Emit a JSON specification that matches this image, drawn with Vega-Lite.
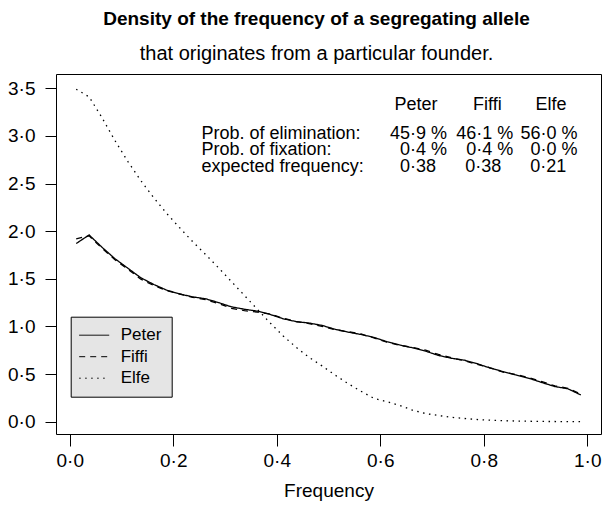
{
  "$schema": "https://vega.github.io/schema/vega-lite/v6.json",
  "width": 545,
  "height": 360,
  "autosize": {"type": "none"},
  "padding": {"left": 56, "top": 74, "right": 1, "bottom": 74},
  "background": "white",
  "title": {
    "text": "Density of the frequency of a segregating allele",
    "subtitle": "that originates from a particular founder.",
    "font": "Liberation Sans",
    "subtitleFont": "Liberation Sans",
    "fontSize": 19,
    "fontWeight": "bold",
    "subtitleFontSize": 20,
    "subtitleFontWeight": "normal",
    "color": "black",
    "subtitleColor": "black",
    "anchor": "middle",
    "dx": -12,
    "offset": 10,
    "subtitlePadding": 15
  },
  "config": {
    "font": "Liberation Sans",
    "view": {"stroke": "black", "strokeWidth": 1},
    "axis": {
      "grid": false,
      "domain": false,
      "tickColor": "black",
      "tickWidth": 1,
      "labelColor": "black",
      "labelFont": "Liberation Sans",
      "labelFontSize": 19,
      "titleFont": "Liberation Sans",
      "titleFontSize": 19,
      "titleFontWeight": "normal",
      "titleColor": "black",
      "labelFlush": false
    },
    "legend": {
      "orient": "none",
      "legendX": 14.7,
      "legendY": 242.7,
      "fillColor": "#e5e5e5",
      "strokeColor": "black",
      "padding": 10,
      "symbolType": "M-2,0H4",
      "symbolSize": 100,
      "symbolStrokeWidth": 1,
      "symbolStrokeColor": "black",
      "symbolFillColor": "transparent",
      "labelFont": "Liberation Sans",
      "labelFontSize": 17,
      "labelColor": "black",
      "labelOffset": 23,
      "rowPadding": 3.5,
      "direction": "vertical"
    }
  },
  "datasets": {
    "curves": [
      {"f": 0.0125, "d": 1.87, "s": "Peter"}, {"f": 0.0375, "d": 1.96, "s": "Peter"}, {"f": 0.0625, "d": 1.83, "s": "Peter"}, {"f": 0.0875, "d": 1.71, "s": "Peter"},
      {"f": 0.1125, "d": 1.61, "s": "Peter"}, {"f": 0.1375, "d": 1.51, "s": "Peter"}, {"f": 0.1625, "d": 1.44, "s": "Peter"}, {"f": 0.1875, "d": 1.38, "s": "Peter"},
      {"f": 0.2125, "d": 1.34, "s": "Peter"}, {"f": 0.2375, "d": 1.31, "s": "Peter"}, {"f": 0.2625, "d": 1.29, "s": "Peter"}, {"f": 0.2875, "d": 1.25, "s": "Peter"},
      {"f": 0.3125, "d": 1.205, "s": "Peter"}, {"f": 0.3375, "d": 1.18, "s": "Peter"}, {"f": 0.3625, "d": 1.16, "s": "Peter"}, {"f": 0.3875, "d": 1.125, "s": "Peter"},
      {"f": 0.4125, "d": 1.08, "s": "Peter"}, {"f": 0.4375, "d": 1.05, "s": "Peter"}, {"f": 0.4625, "d": 1.035, "s": "Peter"}, {"f": 0.4875, "d": 1.01, "s": "Peter"},
      {"f": 0.5125, "d": 0.97, "s": "Peter"}, {"f": 0.5375, "d": 0.94, "s": "Peter"}, {"f": 0.5625, "d": 0.915, "s": "Peter"}, {"f": 0.5875, "d": 0.885, "s": "Peter"},
      {"f": 0.6125, "d": 0.84, "s": "Peter"}, {"f": 0.6375, "d": 0.805, "s": "Peter"}, {"f": 0.6625, "d": 0.775, "s": "Peter"}, {"f": 0.6875, "d": 0.74, "s": "Peter"},
      {"f": 0.7125, "d": 0.695, "s": "Peter"}, {"f": 0.7375, "d": 0.665, "s": "Peter"}, {"f": 0.7625, "d": 0.645, "s": "Peter"}, {"f": 0.7875, "d": 0.608, "s": "Peter"},
      {"f": 0.8125, "d": 0.562, "s": "Peter"}, {"f": 0.8375, "d": 0.525, "s": "Peter"}, {"f": 0.8625, "d": 0.49, "s": "Peter"}, {"f": 0.8875, "d": 0.455, "s": "Peter"},
      {"f": 0.9125, "d": 0.41, "s": "Peter"}, {"f": 0.9375, "d": 0.368, "s": "Peter"}, {"f": 0.9625, "d": 0.345, "s": "Peter"}, {"f": 0.9875, "d": 0.28, "s": "Peter"},

      {"f": 0.0125, "d": 1.92, "s": "Fiffi"}, {"f": 0.0375, "d": 1.95, "s": "Fiffi"}, {"f": 0.0625, "d": 1.82, "s": "Fiffi"}, {"f": 0.0875, "d": 1.70, "s": "Fiffi"},
      {"f": 0.1125, "d": 1.60, "s": "Fiffi"}, {"f": 0.1375, "d": 1.495, "s": "Fiffi"}, {"f": 0.1625, "d": 1.43, "s": "Fiffi"}, {"f": 0.1875, "d": 1.375, "s": "Fiffi"},
      {"f": 0.2125, "d": 1.34, "s": "Fiffi"}, {"f": 0.2375, "d": 1.305, "s": "Fiffi"}, {"f": 0.2625, "d": 1.28, "s": "Fiffi"}, {"f": 0.2875, "d": 1.24, "s": "Fiffi"},
      {"f": 0.3125, "d": 1.19, "s": "Fiffi"}, {"f": 0.3375, "d": 1.165, "s": "Fiffi"}, {"f": 0.3625, "d": 1.15, "s": "Fiffi"}, {"f": 0.3875, "d": 1.13, "s": "Fiffi"},
      {"f": 0.4125, "d": 1.085, "s": "Fiffi"}, {"f": 0.4375, "d": 1.05, "s": "Fiffi"}, {"f": 0.4625, "d": 1.03, "s": "Fiffi"}, {"f": 0.4875, "d": 1.0, "s": "Fiffi"},
      {"f": 0.5125, "d": 0.965, "s": "Fiffi"}, {"f": 0.5375, "d": 0.945, "s": "Fiffi"}, {"f": 0.5625, "d": 0.92, "s": "Fiffi"}, {"f": 0.5875, "d": 0.88, "s": "Fiffi"},
      {"f": 0.6125, "d": 0.835, "s": "Fiffi"}, {"f": 0.6375, "d": 0.80, "s": "Fiffi"}, {"f": 0.6625, "d": 0.78, "s": "Fiffi"}, {"f": 0.6875, "d": 0.75, "s": "Fiffi"},
      {"f": 0.7125, "d": 0.705, "s": "Fiffi"}, {"f": 0.7375, "d": 0.67, "s": "Fiffi"}, {"f": 0.7625, "d": 0.64, "s": "Fiffi"}, {"f": 0.7875, "d": 0.60, "s": "Fiffi"},
      {"f": 0.8125, "d": 0.565, "s": "Fiffi"}, {"f": 0.8375, "d": 0.52, "s": "Fiffi"}, {"f": 0.8625, "d": 0.495, "s": "Fiffi"}, {"f": 0.8875, "d": 0.46, "s": "Fiffi"},
      {"f": 0.9125, "d": 0.42, "s": "Fiffi"}, {"f": 0.9375, "d": 0.375, "s": "Fiffi"}, {"f": 0.9625, "d": 0.35, "s": "Fiffi"}, {"f": 0.9875, "d": 0.29, "s": "Fiffi"},

      {"f": 0.0125, "d": 3.49, "s": "Elfe"}, {"f": 0.0375, "d": 3.41, "s": "Elfe"}, {"f": 0.0625, "d": 3.19, "s": "Elfe"}, {"f": 0.0875, "d": 2.95, "s": "Elfe"},
      {"f": 0.1125, "d": 2.73, "s": "Elfe"}, {"f": 0.1375, "d": 2.53, "s": "Elfe"}, {"f": 0.1625, "d": 2.35, "s": "Elfe"}, {"f": 0.1875, "d": 2.185, "s": "Elfe"},
      {"f": 0.2125, "d": 2.035, "s": "Elfe"}, {"f": 0.2375, "d": 1.89, "s": "Elfe"}, {"f": 0.2625, "d": 1.755, "s": "Elfe"}, {"f": 0.2875, "d": 1.615, "s": "Elfe"},
      {"f": 0.3125, "d": 1.47, "s": "Elfe"}, {"f": 0.3375, "d": 1.325, "s": "Elfe"}, {"f": 0.3625, "d": 1.18, "s": "Elfe"}, {"f": 0.3875, "d": 1.035, "s": "Elfe"},
      {"f": 0.4125, "d": 0.9, "s": "Elfe"}, {"f": 0.4375, "d": 0.78, "s": "Elfe"}, {"f": 0.4625, "d": 0.675, "s": "Elfe"}, {"f": 0.4875, "d": 0.585, "s": "Elfe"},
      {"f": 0.5125, "d": 0.49, "s": "Elfe"}, {"f": 0.5375, "d": 0.40, "s": "Elfe"}, {"f": 0.5625, "d": 0.32, "s": "Elfe"}, {"f": 0.5875, "d": 0.245, "s": "Elfe"},
      {"f": 0.6125, "d": 0.21, "s": "Elfe"}, {"f": 0.6375, "d": 0.17, "s": "Elfe"}, {"f": 0.6625, "d": 0.12, "s": "Elfe"}, {"f": 0.6875, "d": 0.085, "s": "Elfe"},
      {"f": 0.7125, "d": 0.065, "s": "Elfe"}, {"f": 0.7375, "d": 0.045, "s": "Elfe"}, {"f": 0.7625, "d": 0.033, "s": "Elfe"}, {"f": 0.7875, "d": 0.022, "s": "Elfe"},
      {"f": 0.8125, "d": 0.015, "s": "Elfe"}, {"f": 0.8375, "d": 0.01, "s": "Elfe"}, {"f": 0.8625, "d": 0.006, "s": "Elfe"}, {"f": 0.8875, "d": 0.004, "s": "Elfe"},
      {"f": 0.9125, "d": 0.002, "s": "Elfe"}, {"f": 0.9375, "d": 0.001, "s": "Elfe"}, {"f": 0.9625, "d": 0.0005, "s": "Elfe"}, {"f": 0.9875, "d": 0.0, "s": "Elfe"}
    ],
    "txt": [
      {"t": "Peter", "x": 0.669, "y": 3.277, "a": "c"},
      {"t": "Fiffi", "x": 0.807, "y": 3.277, "a": "c"},
      {"t": "Elfe", "x": 0.930, "y": 3.277, "a": "c"},
      {"t": "Prob. of elimination:", "x": 0.2547, "y": 2.9675, "a": "l"},
      {"t": "Prob. of fixation:", "x": 0.2547, "y": 2.7964, "a": "l"},
      {"t": "expected frequency:", "x": 0.2547, "y": 2.6252, "a": "l"},
      {"t": "45·9 %", "x": 0.729, "y": 2.9675, "a": "r"},
      {"t": "46·1 %", "x": 0.857, "y": 2.9675, "a": "r"},
      {"t": "56·0 %", "x": 0.981, "y": 2.9675, "a": "r"},
      {"t": "0·4 %", "x": 0.729, "y": 2.7964, "a": "r"},
      {"t": "0·4 %", "x": 0.857, "y": 2.7964, "a": "r"},
      {"t": "0·0 %", "x": 0.981, "y": 2.7964, "a": "r"},
      {"t": "0·38", "x": 0.638, "y": 2.6252, "a": "l"},
      {"t": "0·38", "x": 0.764, "y": 2.6252, "a": "l"},
      {"t": "0·21", "x": 0.890, "y": 2.6252, "a": "l"}
    ]
  },
  "layer": [
    {
      "data": {"name": "curves"},
      "mark": {"type": "line", "strokeWidth": 1.3, "color": "black"},
      "encoding": {
        "x": {
          "field": "f", "type": "quantitative",
          "scale": {"domain": [-0.0265, 1.0265], "nice": false, "zero": false},
          "axis": {
            "values": [0, 0.2, 0.4, 0.6, 0.8, 1.0],
            "title": "Frequency",
            "tickSize": 12,
            "labelPadding": 5,
            "titlePadding": 11,
            "labelExpr": "replace(format(datum.value, '.1f'), '.', '·')"
          }
        },
        "y": {
          "field": "d", "type": "quantitative",
          "scale": {"domain": [-0.13, 3.65], "nice": false, "zero": false},
          "axis": {
            "values": [0, 0.5, 1.0, 1.5, 2.0, 2.5, 3.0, 3.5],
            "title": null,
            "tickSize": 11,
            "labelPadding": 10,
            "labelExpr": "replace(format(datum.value, '.1f'), '.', '·')"
          }
        },
        "strokeDash": {
          "field": "s", "type": "nominal",
          "scale": {"domain": ["Peter", "Fiffi", "Elfe"], "range": [[1, 0], [6, 5], [1.5, 4.5]]},
          "legend": {"title": null}
        }
      }
    },
    {
      "mark": {"type": "rule", "color": "black", "strokeWidth": 1},
      "encoding": {"y": {"datum": 0}}
    },
    {
      "data": {"name": "txt"},
      "transform": [{"filter": "datum.a == 'l'"}],
      "mark": {"type": "text", "align": "left", "baseline": "alphabetic", "fontSize": 18, "font": "Liberation Sans", "color": "black"},
      "encoding": {
        "x": {"field": "x", "type": "quantitative"},
        "y": {"field": "y", "type": "quantitative"},
        "text": {"field": "t"}
      }
    },
    {
      "data": {"name": "txt"},
      "transform": [{"filter": "datum.a == 'c'"}],
      "mark": {"type": "text", "align": "center", "baseline": "alphabetic", "fontSize": 18, "font": "Liberation Sans", "color": "black"},
      "encoding": {
        "x": {"field": "x", "type": "quantitative"},
        "y": {"field": "y", "type": "quantitative"},
        "text": {"field": "t"}
      }
    },
    {
      "data": {"name": "txt"},
      "transform": [{"filter": "datum.a == 'r'"}],
      "mark": {"type": "text", "align": "right", "baseline": "alphabetic", "fontSize": 18, "font": "Liberation Sans", "color": "black"},
      "encoding": {
        "x": {"field": "x", "type": "quantitative"},
        "y": {"field": "y", "type": "quantitative"},
        "text": {"field": "t"}
      }
    }
  ]
}
